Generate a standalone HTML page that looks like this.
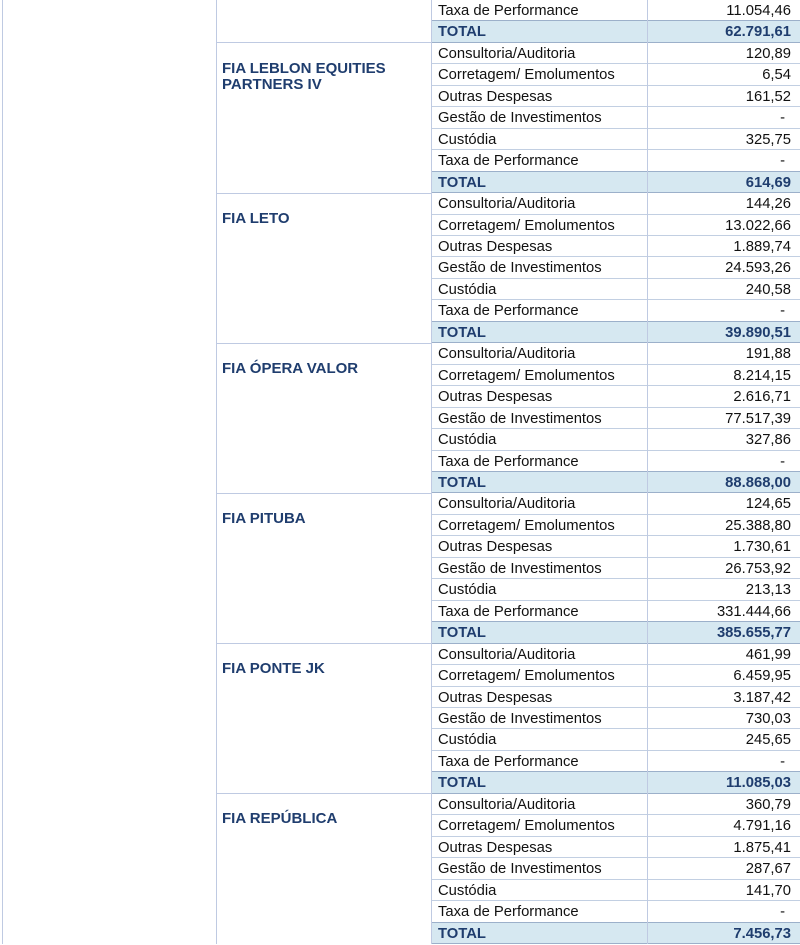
<!DOCTYPE html>
<html>
<head>
<meta charset="utf-8">
<style>
html,body{margin:0;padding:0;background:#fff;}
body{width:800px;height:944px;position:relative;overflow:hidden;font-family:"Liberation Sans",Arial,sans-serif;}
.r{position:absolute;left:432px;width:368px;height:21.45px;box-sizing:border-box;border-bottom:1px solid #c2cfe2;font-size:14.8px;color:#111;}
.r .l{position:absolute;left:6px;top:1px;line-height:21px;white-space:nowrap;}
.r .v{position:absolute;right:9px;top:1px;line-height:21px;white-space:nowrap;}
.r .d{right:15px;}
.r.pt{border-bottom:1px solid #9cb0ca;}
.r.t{background:#d6e8f1;border-bottom:1px solid #9cb0ca;font-weight:bold;color:#1f3d6e;}
.vl{position:absolute;top:0;width:1px;height:944px;background:#bfcae2;z-index:2;}
.hl{position:absolute;left:216px;width:216px;height:1px;background:#bfcae2;z-index:2;}
.f{position:absolute;left:222px;font-size:15px;font-weight:bold;color:#1f3d6e;line-height:16.5px;white-space:nowrap;}
</style>
</head>
<body>

<div class="r pt" style="top:0px"><span class="l">Taxa de Performance</span><span class="v">11.054,46</span></div>
<div class="r t" style="top:21.45px"><span class="l">TOTAL</span><span class="v">62.791,61</span></div>

<div class="r" style="top:42.91px"><span class="l">Consultoria/Auditoria</span><span class="v">120,89</span></div>
<div class="r" style="top:64.36px"><span class="l">Corretagem/ Emolumentos</span><span class="v">6,54</span></div>
<div class="r" style="top:85.82px"><span class="l">Outras Despesas</span><span class="v">161,52</span></div>
<div class="r" style="top:107.27px"><span class="l">Gestão de Investimentos</span><span class="v d">-</span></div>
<div class="r" style="top:128.73px"><span class="l">Custódia</span><span class="v">325,75</span></div>
<div class="r pt" style="top:150.18px"><span class="l">Taxa de Performance</span><span class="v d">-</span></div>
<div class="r t" style="top:171.64px"><span class="l">TOTAL</span><span class="v">614,69</span></div>

<div class="r" style="top:193.09px"><span class="l">Consultoria/Auditoria</span><span class="v">144,26</span></div>
<div class="r" style="top:214.55px"><span class="l">Corretagem/ Emolumentos</span><span class="v">13.022,66</span></div>
<div class="r" style="top:236.00px"><span class="l">Outras Despesas</span><span class="v">1.889,74</span></div>
<div class="r" style="top:257.45px"><span class="l">Gestão de Investimentos</span><span class="v">24.593,26</span></div>
<div class="r" style="top:278.91px"><span class="l">Custódia</span><span class="v">240,58</span></div>
<div class="r pt" style="top:300.36px"><span class="l">Taxa de Performance</span><span class="v d">-</span></div>
<div class="r t" style="top:321.82px"><span class="l">TOTAL</span><span class="v">39.890,51</span></div>

<div class="r" style="top:343.27px"><span class="l">Consultoria/Auditoria</span><span class="v">191,88</span></div>
<div class="r" style="top:364.73px"><span class="l">Corretagem/ Emolumentos</span><span class="v">8.214,15</span></div>
<div class="r" style="top:386.18px"><span class="l">Outras Despesas</span><span class="v">2.616,71</span></div>
<div class="r" style="top:407.64px"><span class="l">Gestão de Investimentos</span><span class="v">77.517,39</span></div>
<div class="r" style="top:429.09px"><span class="l">Custódia</span><span class="v">327,86</span></div>
<div class="r pt" style="top:450.55px"><span class="l">Taxa de Performance</span><span class="v d">-</span></div>
<div class="r t" style="top:472.00px"><span class="l">TOTAL</span><span class="v">88.868,00</span></div>

<div class="r" style="top:493.45px"><span class="l">Consultoria/Auditoria</span><span class="v">124,65</span></div>
<div class="r" style="top:514.91px"><span class="l">Corretagem/ Emolumentos</span><span class="v">25.388,80</span></div>
<div class="r" style="top:536.36px"><span class="l">Outras Despesas</span><span class="v">1.730,61</span></div>
<div class="r" style="top:557.82px"><span class="l">Gestão de Investimentos</span><span class="v">26.753,92</span></div>
<div class="r" style="top:579.27px"><span class="l">Custódia</span><span class="v">213,13</span></div>
<div class="r pt" style="top:600.73px"><span class="l">Taxa de Performance</span><span class="v">331.444,66</span></div>
<div class="r t" style="top:622.18px"><span class="l">TOTAL</span><span class="v">385.655,77</span></div>

<div class="r" style="top:643.64px"><span class="l">Consultoria/Auditoria</span><span class="v">461,99</span></div>
<div class="r" style="top:665.09px"><span class="l">Corretagem/ Emolumentos</span><span class="v">6.459,95</span></div>
<div class="r" style="top:686.55px"><span class="l">Outras Despesas</span><span class="v">3.187,42</span></div>
<div class="r" style="top:708.00px"><span class="l">Gestão de Investimentos</span><span class="v">730,03</span></div>
<div class="r" style="top:729.45px"><span class="l">Custódia</span><span class="v">245,65</span></div>
<div class="r pt" style="top:750.91px"><span class="l">Taxa de Performance</span><span class="v d">-</span></div>
<div class="r t" style="top:772.36px"><span class="l">TOTAL</span><span class="v">11.085,03</span></div>

<div class="r" style="top:793.82px"><span class="l">Consultoria/Auditoria</span><span class="v">360,79</span></div>
<div class="r" style="top:815.27px"><span class="l">Corretagem/ Emolumentos</span><span class="v">4.791,16</span></div>
<div class="r" style="top:836.73px"><span class="l">Outras Despesas</span><span class="v">1.875,41</span></div>
<div class="r" style="top:858.18px"><span class="l">Gestão de Investimentos</span><span class="v">287,67</span></div>
<div class="r" style="top:879.64px"><span class="l">Custódia</span><span class="v">141,70</span></div>
<div class="r pt" style="top:901.09px"><span class="l">Taxa de Performance</span><span class="v d">-</span></div>
<div class="r t" style="top:922.55px"><span class="l">TOTAL</span><span class="v">7.456,73</span></div>

<div class="hl" style="top:42.4px"></div>
<div class="hl" style="top:192.6px"></div>
<div class="hl" style="top:342.8px"></div>
<div class="hl" style="top:493.0px"></div>
<div class="hl" style="top:643.1px"></div>
<div class="hl" style="top:793.3px"></div>

<div class="f" style="top:60.5px">FIA LEBLON EQUITIES<br>PARTNERS IV</div>
<div class="f" style="top:210.7px">FIA LETO</div>
<div class="f" style="top:360.9px">FIA ÓPERA VALOR</div>
<div class="f" style="top:511.1px">FIA PITUBA</div>
<div class="f" style="top:661.2px">FIA PONTE JK</div>
<div class="f" style="top:811.4px">FIA REPÚBLICA</div>

<div class="vl" style="left:2px"></div>
<div class="vl" style="left:216px"></div>
<div class="vl" style="left:431px"></div>
<div class="vl" style="left:647px"></div>

</body>
</html>
